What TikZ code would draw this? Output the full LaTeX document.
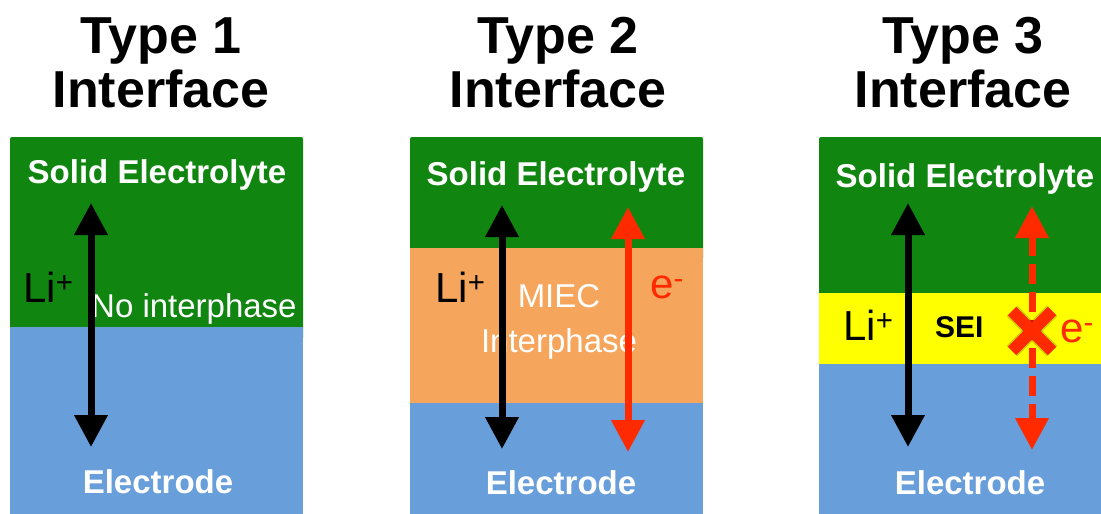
\documentclass[tikz,border=0pt]{standalone}
\usepackage{fontspec}
\setmainfont{Liberation Sans}
\usepackage{tikz}
\usepackage{xcolor}
\usetikzlibrary{arrows.meta, positioning}
\definecolor{elygreen}{RGB}{16,134,16}
\definecolor{electblue}{RGB}{104,158,218}
\definecolor{miecorange}{RGB}{246,166,92}
\definecolor{seiyellow}{RGB}{255,255,0}
\definecolor{ered}{RGB}{255,42,0}
\tikzstyle{ttl}=[font=\fontsize{52}{56}\selectfont\bfseries, inner sep=0pt, anchor=base]
\tikzstyle{blbl}=[font=\fontsize{33}{36}\selectfont\bfseries, text=white, inner sep=0pt, anchor=base]
\tikzstyle{wlbl}=[font=\fontsize{33}{36}\selectfont, text=white, inner sep=0pt, anchor=base]
\tikzstyle{ion}=[font=\fontsize{42}{44}\selectfont, inner sep=0pt, anchor=base west]
\tikzstyle{liarr}=[{Triangle[length=32pt, width=32pt]}-{Triangle[length=32pt, width=32pt]},
  line width=7pt, color=black]
\tikzstyle{earr}=[liarr, color=ered]

\begin{document}
\begin{tikzpicture}[x=1pt, y=-1pt]
    \clip (0,0) rectangle (1101,514);
    \fill[white] (0,0) rectangle (1101,514);
    % titles
    \foreach \n/\x in {1/161, 2/558, 3/963} {
      \node[ttl] (type\n) at (\x,53) {Type \n};
      \node[ttl] (intf\n) at (\x,107) {Interface};
    }
    % panel 1: no interphase
    \fill[elygreen, rounded corners=2pt] (10,137) rectangle (303,340);
    \fill[electblue] (10,327) rectangle (303,514);
    % panel 2: MIEC interphase
    \fill[elygreen, rounded corners=2pt] (410,137) rectangle (703,260);
    \fill[miecorange] (410,248) rectangle (703,403);
    \fill[electblue] (410,403) rectangle (703,514);
    % panel 3: SEI
    \fill[elygreen, rounded corners=2pt] (819,137) rectangle (1111,300);
    \fill[seiyellow] (819,293) rectangle (1111,364);
    \fill[electblue] (819,364) rectangle (1111,514);
    % layer labels
    \foreach \n/\x/\y in {1/157/183, 2/556/185, 3/965/187}
      \node[blbl] (sol\n) at (\x,\y) {Solid Electrolyte};
    \foreach \n/\x/\y in {1/158/493, 2/561/494, 3/970/494}
      \node[blbl] (ele\n) at (\x,\y) {Electrode};
    \node[wlbl, anchor=base west] (noint) at (91,317) {No interphase};
    \node[wlbl] (miec) at (559,307) {MIEC};
    \node[wlbl] (miecb) at (559,352) {Interphase};
    \node[font=\fontsize{30}{32}\selectfont\bfseries, inner sep=0pt, anchor=base west]
      (sei) at (935,337) {SEI};
    % ion labels
    \node[ion] (li1) at (23,302) {Li\textsuperscript{+}};
    \node[ion] (li2) at (435,302) {Li\textsuperscript{+}};
    \node[ion] (li3) at (843,340) {Li\textsuperscript{+}};
    \node[ion, text=ered] (el2) at (650,298) {e\textsuperscript{-}};
    \node[ion, text=ered] (el3) at (1060,342) {e\textsuperscript{-}};
    % transport arrows
    \coordinate (p1t) at (91,203);   \coordinate (p1b) at (91,447);
    \coordinate (p2t) at (502,205);  \coordinate (p2b) at (502,449);
    \coordinate (q2t) at (628,207);  \coordinate (q2b) at (628,452);
    \coordinate (p3t) at (908,203);  \coordinate (p3b) at (908,447);
    \coordinate (q3t) at (1032,206); \coordinate (q3b) at (1032,450);
    \draw[liarr] (p1t) -- (p1b);
    \draw[liarr] (p2t) -- (p2b);
    \draw[earr] (q2t) -- (q2b);
    \draw[liarr] (p3t) -- (p3b);
    \draw[earr, dash pattern=on 20pt off 8pt] (q3t) -- (q3b);
    % blocked electron
    \coordinate (xc) at (1032,331);
    \begin{scope}[shift={(3,5)}, black, opacity=0.18, line width=15pt]
      \draw ([shift={(-20,-20)}]xc) -- ([shift={(20,20)}]xc);
      \draw ([shift={(20,-20)}]xc) -- ([shift={(-20,20)}]xc);
    \end{scope}
    \draw[ered, line width=12pt] ([shift={(-20,-20)}]xc) -- ([shift={(20,20)}]xc);
    \draw[ered, line width=12pt] ([shift={(20,-20)}]xc) -- ([shift={(-20,20)}]xc);
  \end{tikzpicture}
\end{document}
